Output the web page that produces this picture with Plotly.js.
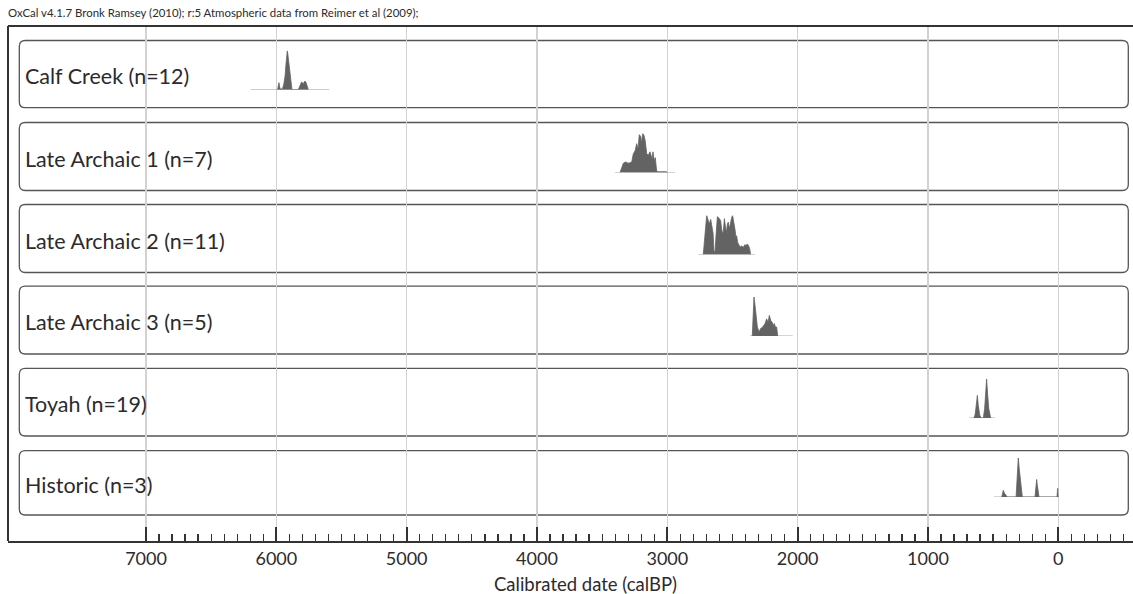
<!DOCTYPE html>
<html>
<head>
<meta charset="utf-8">
<script src="https://cdn.plot.ly/plotly-3.0.1.min.js"></script>
<style>html,body{margin:0;padding:0;background:#fff;}#chart{width:1133px;height:594px;}</style>
</head>
<body>
<div id="chart"></div>
<script>
// ---- Data (calBP years, relative probability) ----
const phaseLabels = ["Calf Creek (n=12)", "Late Archaic 1 (n=7)", "Late Archaic 2 (n=11)", "Late Archaic 3 (n=5)", "Toyah (n=19)", "Historic (n=3)"];

// plotted range (zero-probability baseline) of each distribution
const rangeStart = [6197, 3401, 2762, 2366, 685, 493];
const rangeEnd   = [5594, 2941, 2327, 2038, 486, 0];

const calfCreekYears = [5990, 5985, 5980, 5975, 5970, 5960, 5951, 5942, 5933, 5926, 5921, 5916, 5912, 5908, 5904, 5900, 5890, 5880, 5832, 5825, 5818, 5812, 5806, 5800, 5793, 5786, 5780, 5774, 5767, 5760, 5755];
const calfCreekProb  = [0, 0.1, 0.18, 0.08, 0.02, 0.02, 0.04, 0.15, 0.35, 0.65, 0.85, 1.0, 0.92, 0.8, 0.6, 0.45, 0.15, 0, 0, 0.05, 0.1, 0.16, 0.2, 0.18, 0.14, 0.2, 0.22, 0.2, 0.15, 0.06, 0];

const lateArchaic1Years = [3363, 3350, 3337, 3327, 3317, 3308, 3299, 3286, 3273, 3261, 3248, 3235, 3225, 3215, 3204, 3197, 3189, 3179, 3169, 3158, 3146, 3133, 3125, 3117, 3110, 3100, 3092, 3082, 3070, 3040, 3005, 3000];
const lateArchaic1Prob  = [0, 0.12, 0.24, 0.26, 0.27, 0.25, 0.24, 0.25, 0.27, 0.48, 0.55, 0.74, 0.6, 0.97, 0.92, 0.74, 1.0, 0.95, 0.8, 0.48, 0.44, 0.53, 0.46, 0.35, 0.53, 0.3, 0.38, 0.04, 0.02, 0.02, 0.02, 0];

const lateArchaic2Years = [2724, 2713, 2703, 2698, 2688, 2678, 2667, 2657, 2649, 2642, 2634, 2626, 2616, 2603, 2591, 2583, 2575, 2570, 2562, 2555, 2547, 2539, 2532, 2524, 2514, 2506, 2499, 2488, 2481, 2473, 2468, 2460, 2447, 2437, 2427, 2417, 2406, 2396, 2386, 2376, 2368, 2361];
const lateArchaic2Prob  = [0, 0.5, 0.9, 1.0, 0.9, 0.78, 0.9, 0.7, 0.55, 0.1, 0.05, 0.5, 0.97, 0.93, 0.87, 0.65, 0.52, 0.6, 0.92, 0.74, 0.56, 0.78, 0.83, 0.66, 0.87, 0.95, 1.0, 0.83, 0.65, 0.44, 0.48, 0.31, 0.22, 0.2, 0.22, 0.18, 0.25, 0.23, 0.27, 0.22, 0.15, 0];

const lateArchaic3Years = [2348, 2340, 2335, 2327, 2319, 2309, 2296, 2284, 2268, 2250, 2238, 2227, 2217, 2207, 2197, 2186, 2179, 2171, 2161, 2153];
const lateArchaic3Prob  = [0, 0.8, 1.0, 0.79, 0.44, 0.23, 0.1, 0.19, 0.23, 0.32, 0.44, 0.35, 0.53, 0.4, 0.36, 0.27, 0.32, 0.23, 0.23, 0];

const toyahYears = [647, 639, 634, 629, 621, 614, 608, 603, 593, 575, 565, 557, 550, 542, 534, 519];
const toyahProb  = [0, 0.08, 0.2, 0.35, 0.58, 0.32, 0.2, 0.08, 0, 0, 0.25, 0.6, 1.0, 0.6, 0.25, 0];

const historicYears = [434, 427, 422, 414, 401, 391, 324, 317, 312, 307, 299, 291, 284, 276, 179, 171, 166, 161, 153, 148, 10, 5, 1];
const historicProb  = [0, 0.1, 0.17, 0.1, 0.03, 0, 0, 0.35, 0.8, 1.0, 0.7, 0.4, 0.15, 0, 0, 0.25, 0.45, 0.3, 0.08, 0, 0, 0.22, 0];

const seriesYears = [calfCreekYears, lateArchaic1Years, lateArchaic2Years, lateArchaic3Years, toyahYears, historicYears];
const seriesProb  = [calfCreekProb, lateArchaic1Prob, lateArchaic2Prob, lateArchaic3Prob, toyahProb, historicProb];

const tickValues = [7000, 6000, 5000, 4000, 3000, 2000, 1000, 0];
const tickLabels = ["7000", "6000", "5000", "4000", "3000", "2000", "1000", "0"];
const minorTickValues = [];
for (let v = 7000; v >= -500; v -= 100) { if (v % 1000 !== 0) minorTickValues.push(v); }

const titleText = "OxCal v4.1.7 Bronk Ramsey (2010); r:5 Atmospheric data from Reimer et al (2009);";
const xAxisTitle = "Calibrated date (calBP)";

// ---- Layout geometry (pixels) ----
const W = 1133, H = 594;
const M = {l: 8, r: 0, t: 26, b: 53};
const plotTop = M.t, plotBottom = H - M.b, plotH = plotBottom - plotTop, plotW = W - M.l - M.r;
const py = p => (plotBottom - p) / plotH;       // pixel y -> paper
const px = p => (p - M.l) / plotW;              // pixel x -> paper
const panelTops = [40.5, 122.5, 204.5, 286.2, 368.3, 450.7];
const panelBottoms = [107.7, 190.5, 272.5, 354, 436, 515];
const panelLeft = 19.3, panelRight = 1128.3, radius = 6;
const baseOffset = 18;   // baseline above panel bottom
const peakH = 39;

const FONT = "Lato, 'Open Sans', sans-serif";
const TXT = "#2b2b2b";

// full-height frame subplot (carries the gridlines and the x axis)
const traces = [{x: [tickValues[0]], y: [0], xaxis: "x", yaxis: "y", mode: "markers", marker: {opacity: 0}, hoverinfo: "skip"}];
const layout = {
  width: W, height: H,
  margin: M,
  paper_bgcolor: "#fff",
  plot_bgcolor: "rgba(0,0,0,0)",
  showlegend: false,
  font: {family: FONT, color: TXT},
  title: {text: titleText, x: M.l / W, xref: "container", xanchor: "left", y: 1 - 13 / H, yanchor: "middle", yref: "container", pad: {l: 0, t: 0, b: 0, r: 0}, font: {family: FONT, size: 11.4, color: TXT}},
  xaxis: {
    range: [7000 + (146 - M.l) / 0.13033, -(W - 1058.3) / 0.13033],
    anchor: "y",
    tickmode: "array", tickvals: tickValues, ticktext: tickLabels,
    ticks: "inside", ticklen: 14, tickwidth: 2, tickcolor: "#333",
    showline: true, linecolor: "#333", linewidth: 2,
    showgrid: true, gridcolor: "#d2d2d2", gridwidth: 1.5,
    zeroline: false,
    tickfont: {family: FONT, size: 18, color: TXT},
    ticklabelstandoff: 0,
    minor: {tickmode: "array", tickvals: minorTickValues, ticks: "inside", ticklen: 7, tickwidth: 1.3, tickcolor: "#333", showgrid: false},
    fixedrange: true
  },
  yaxis: {domain: [0, 1], range: [0, 1], visible: false, anchor: "x", fixedrange: true},
  shapes: [
    {type: "line", xref: "paper", yref: "paper", x0: 0, x1: 0, y0: 0, y1: 1, line: {color: "#333", width: 2}, layer: "above"},
    {type: "line", xref: "paper", yref: "paper", x0: 0, x1: 1, y0: 1, y1: 1, line: {color: "#333", width: 2}, layer: "above"}
  ],
  annotations: [
    {text: xAxisTitle, xref: "paper", yref: "paper", x: px(585), xanchor: "center", y: py(584), yanchor: "middle",
     showarrow: false, font: {family: FONT, size: 18.5, color: TXT}}
  ]
};

function roundedRect(x0, y0, x1, y1, r) {
  const X = v => px(v), Y = v => py(v);
  return `M ${X(x0 + r)},${Y(y0)} L ${X(x1 - r)},${Y(y0)} Q ${X(x1)},${Y(y0)} ${X(x1)},${Y(y0 + r)} ` +
         `L ${X(x1)},${Y(y1 - r)} Q ${X(x1)},${Y(y1)} ${X(x1 - r)},${Y(y1)} ` +
         `L ${X(x0 + r)},${Y(y1)} Q ${X(x0)},${Y(y1)} ${X(x0)},${Y(y1 - r)} ` +
         `L ${X(x0)},${Y(y0 + r)} Q ${X(x0)},${Y(y0)} ${X(x0 + r)},${Y(y0)} Z`;
}

phaseLabels.forEach((label, i) => {
  const axNum = i + 2;
  const yName = "yaxis" + axNum, yRef = "y" + axNum;
  const base = panelBottoms[i] - baseOffset;
  layout[yName] = {domain: [py(base), py(base - peakH)], range: [0, 1], visible: false, anchor: "x", fixedrange: true};

  layout.shapes.push({type: "path", xref: "paper", yref: "paper", path: roundedRect(panelLeft, panelTops[i], panelRight, panelBottoms[i], radius),
    line: {color: "#555", width: 1.3}, fillcolor: "rgba(0,0,0,0)", layer: "below"});

  layout.annotations.push({text: label, xref: "paper", yref: "paper", x: px(23), xanchor: "left",
    y: py((panelTops[i] + panelBottoms[i]) / 2 + 2), yanchor: "middle", showarrow: false,
    font: {family: FONT, size: 21.5, color: TXT}});

  traces.push({x: [rangeStart[i], rangeEnd[i]], y: [0, 0], xaxis: "x", yaxis: yRef, mode: "lines",
    line: {color: "#a8a8a8", width: 1}, hoverinfo: "skip"});
  traces.push({x: seriesYears[i], y: seriesProb[i], xaxis: "x", yaxis: yRef, mode: "lines", fill: "tozeroy",
    fillcolor: "#636363", line: {color: "#636363", width: 0.8}, hoverinfo: "skip"});
});

Plotly.newPlot("chart", traces, layout, {staticPlot: true, displayModeBar: false});
</script>
</body>
</html>
